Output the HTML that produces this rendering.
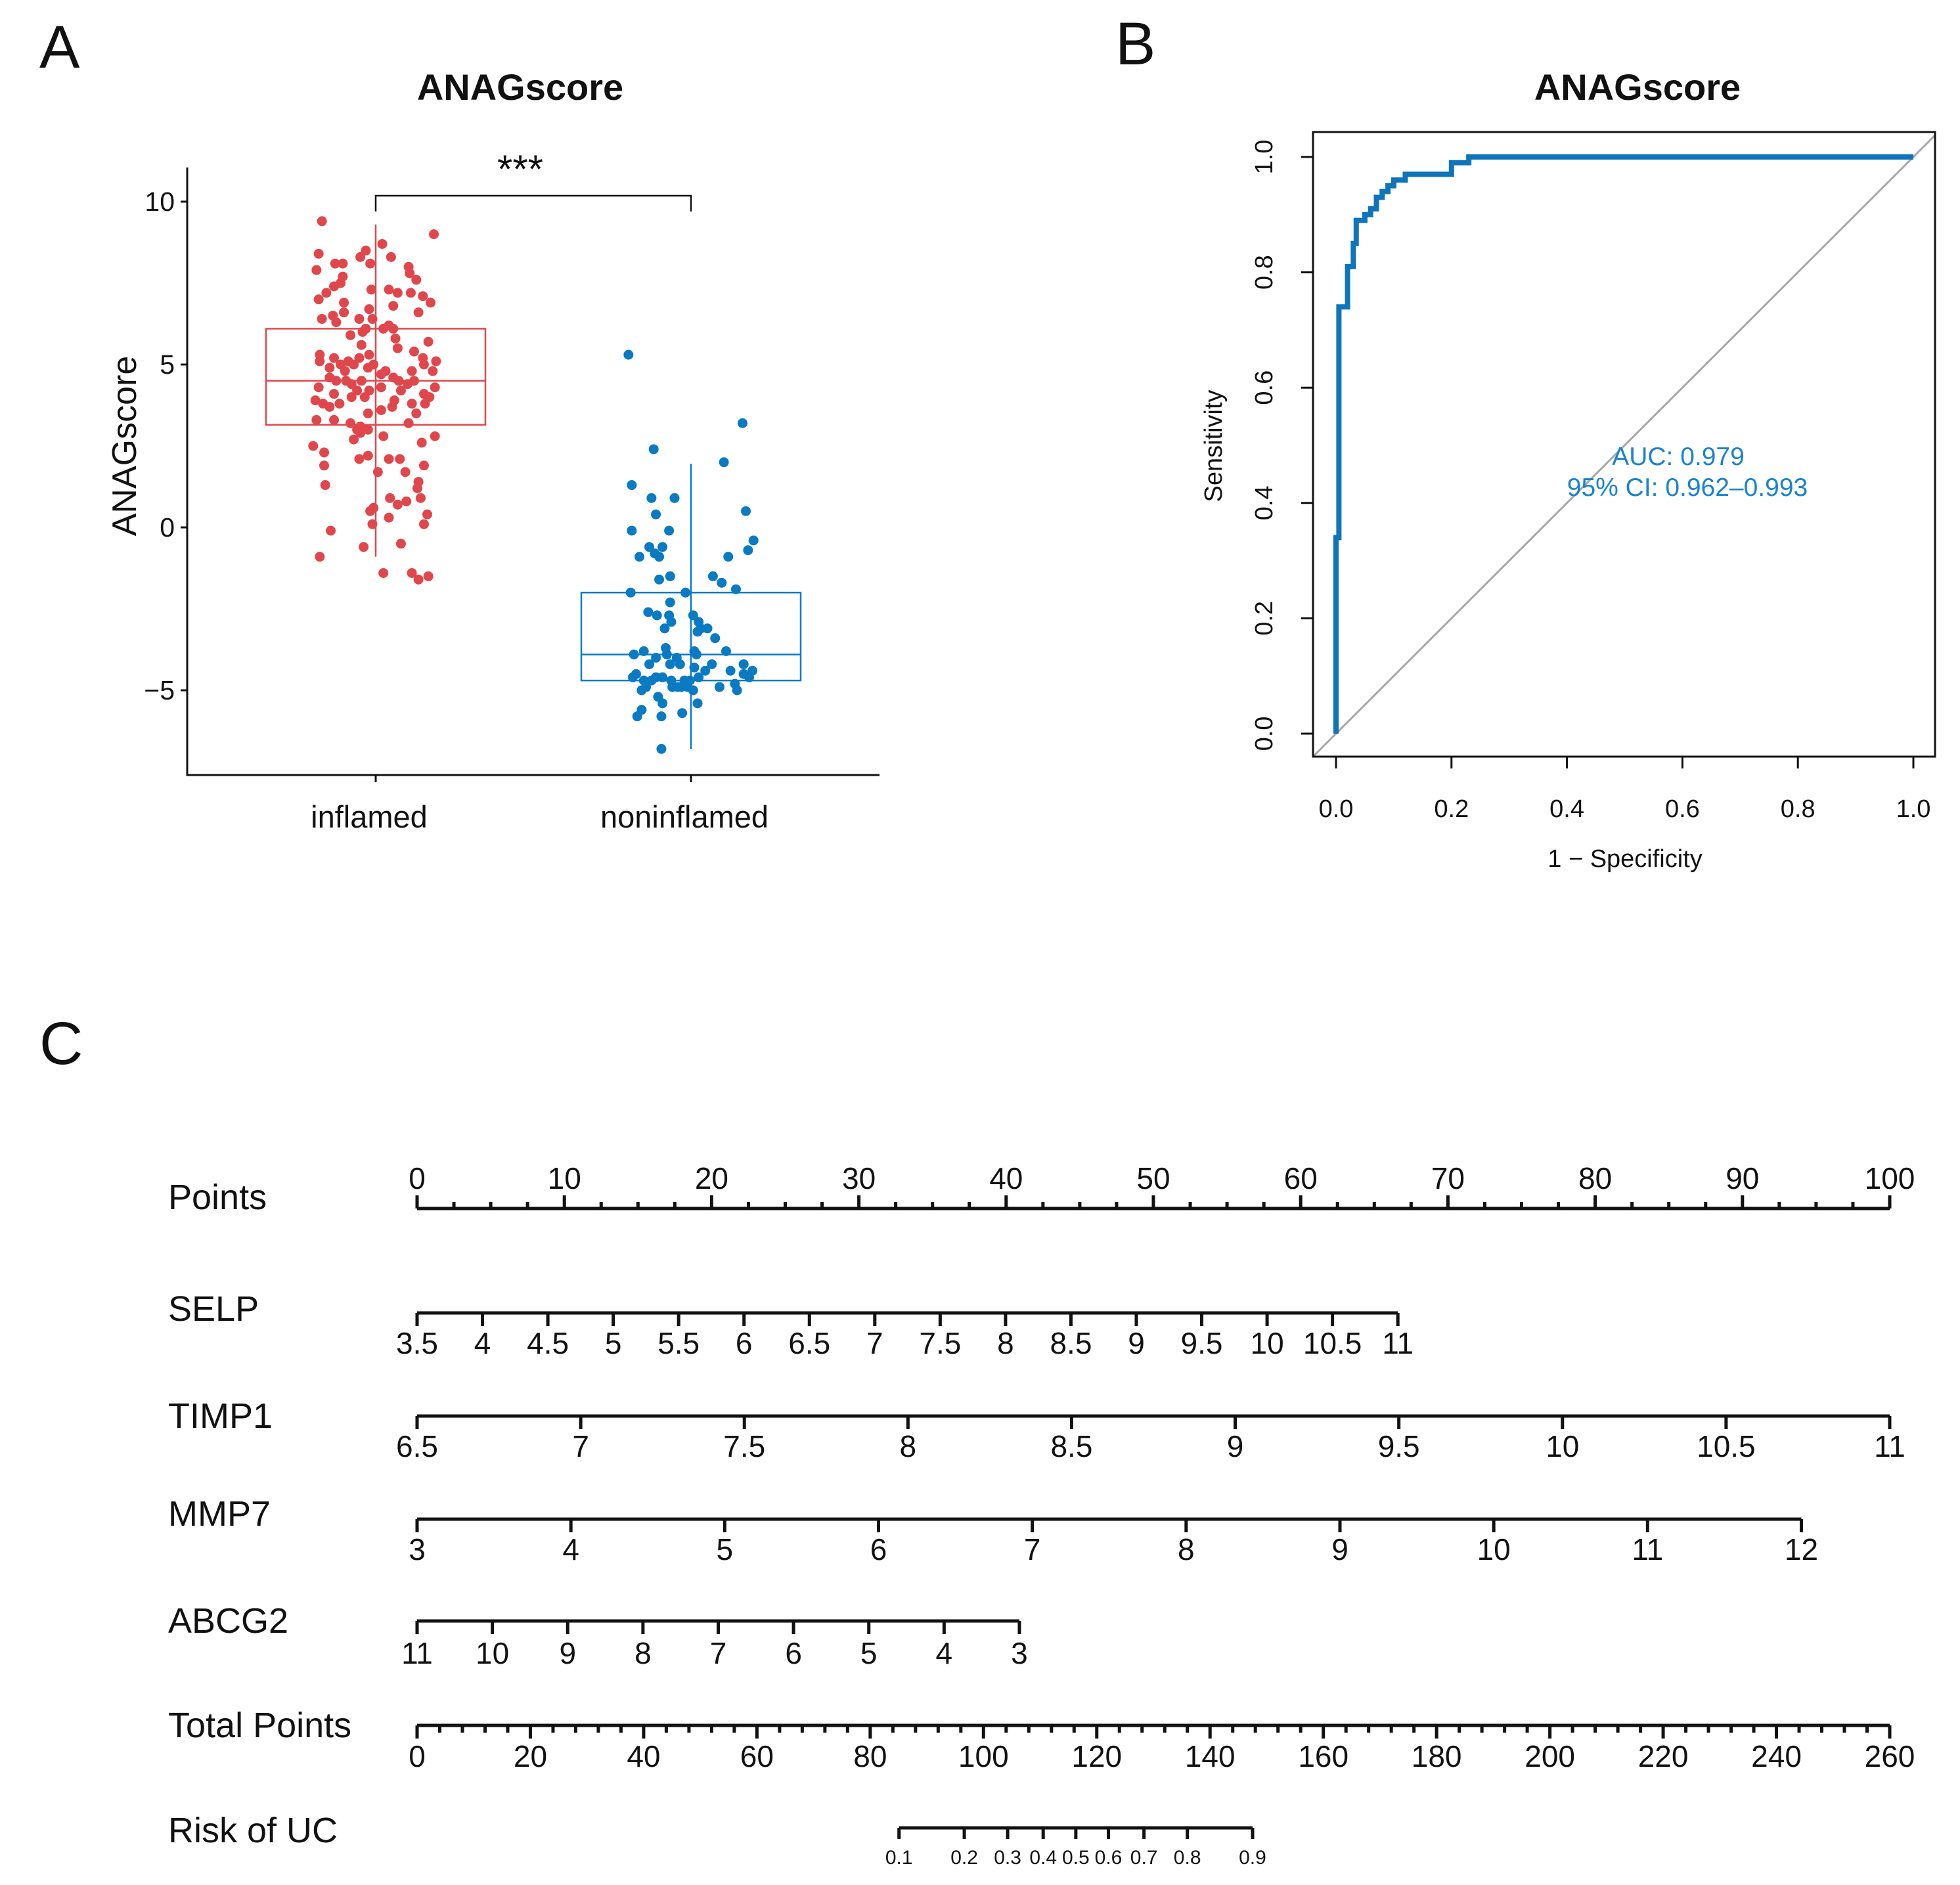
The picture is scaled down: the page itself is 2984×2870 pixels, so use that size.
<!DOCTYPE html>
<html><head><meta charset="utf-8"><style>
html,body{margin:0;padding:0;background:#fff}
svg{display:block}
text{font-family:"Liberation Sans",Arial,sans-serif;fill:#111}
</style></head><body>
<svg id="fig" width="2984" height="2870" viewBox="0 0 2984 2870" xmlns="http://www.w3.org/2000/svg">
<g id="pa"></g>
<g id="pb"></g>
<g id="pc"></g>
</svg>
<script>
// ---------- Panel A data ----------
const groups = ["inflamed","noninflamed"];
const yTicksA = [-5,0,5,10];
const inflamedScores = [9.4,9.0,8.7,8.5,8.4,8.3,8.3,8.1,8.1,8.1,8.0,7.9,7.8,7.6,7.7,7.5,7.4,7.2,7.3,7.3,7.2,7.2,7.1,6.9,7.0,6.9,6.8,6.7,6.5,6.4,6.6,6.6,6.4,6.4,6.3,6.1,6.2,6.1,6.1,6.0,5.9,5.8,5.7,5.6,5.5,5.4,5.3,5.2,5.3,5.2,5.1,5.1,5.2,5.1,5.0,5.0,5.0,5.0,4.9,4.9,4.8,4.8,4.8,4.8,4.7,4.6,4.5,4.5,4.6,4.5,4.5,4.4,4.5,4.4,4.3,4.2,4.3,4.3,4.2,4.1,4.2,4.1,3.9,4.0,4.0,4.0,3.9,3.8,3.8,3.8,3.7,3.8,3.7,3.6,3.5,3.3,3.3,3.5,3.2,3.1,3.2,3.0,3.0,2.9,2.8,2.7,2.6,2.8,2.5,2.3,2.1,2.2,2.1,2.1,1.9,1.7,1.9,1.7,1.3,1.4,1.2,0.9,0.9,0.8,0.7,0.6,0.5,0.4,0.3,0.1,0.1,-0.1,-0.6,-0.5,-0.9,-1.4,-1.4,-1.6,-1.5];
const inflamedJitter = [-0.49,0.53,0.06,-0.09,-0.52,0.14,-0.14,-0.05,-0.37,-0.30,0.30,-0.54,0.31,0.37,-0.30,-0.32,-0.38,-0.45,-0.04,0.12,0.20,0.32,0.43,0.50,-0.52,-0.29,0.16,-0.06,-0.39,-0.15,0.39,-0.29,-0.49,-0.03,-0.36,-0.09,0.12,0.16,0.07,-0.12,-0.23,0.18,0.48,-0.13,0.20,0.35,-0.51,-0.38,-0.06,-0.15,-0.25,-0.51,0.43,0.55,-0.32,-0.20,-0.02,0.44,-0.42,-0.07,0.09,0.33,-0.28,0.52,0.05,0.16,0.21,-0.13,-0.42,-0.36,-0.27,0.29,0.35,-0.22,-0.52,-0.06,0.05,0.54,0.23,-0.38,-0.17,0.44,-0.55,-0.10,-0.22,0.49,0.17,-0.48,-0.33,0.33,-0.42,0.45,0.15,0.05,0.37,-0.54,-0.38,-0.07,-0.23,-0.14,0.30,-0.17,-0.07,-0.14,0.07,-0.20,0.42,0.54,-0.57,-0.47,-0.15,-0.07,0.12,0.22,-0.47,0.27,0.44,0.02,-0.46,0.39,0.38,0.13,0.41,0.28,0.20,-0.02,-0.05,0.47,0.12,-0.03,0.44,-0.41,-0.11,0.23,-0.51,0.07,0.33,0.39,0.48];
const nonScores = [5.3,3.2,2.4,2.0,1.3,0.9,0.9,0.5,0.4,-0.1,-0.1,-0.4,-0.6,-0.6,-0.7,-0.8,-0.9,-0.9,-0.9,-1.5,-1.6,-1.5,-1.7,-1.9,-2.0,-2.0,-2.3,-2.6,-2.7,-2.7,-2.7,-2.9,-2.9,-3.1,-3.1,-3.1,-3.2,-3.4,-3.9,-3.8,-3.7,-3.9,-4.0,-3.8,-3.9,-3.8,-4.0,-4.2,-4.2,-4.2,-4.2,-4.2,-4.5,-4.7,-4.6,-4.6,-4.7,-4.7,-4.6,-4.4,-4.3,-4.4,-4.4,-4.9,-5.0,-4.9,-4.9,-5.0,-4.9,-4.8,-4.6,-4.5,-5.4,-5.2,-5.4,-5.6,-5.8,-5.8,-5.7,-6.8,-4.9,-4.7,-4.7,-4.9,-5.0,-4.6];
const nonJitter = [-0.57,0.47,-0.34,0.30,-0.54,-0.36,-0.15,0.50,-0.32,-0.54,-0.20,0.57,-0.26,-0.38,0.52,-0.33,-0.47,-0.29,0.34,0.20,-0.29,-0.19,0.28,0.41,-0.55,-0.05,-0.19,-0.39,-0.20,-0.31,0.02,0.07,-0.18,-0.24,0.09,0.15,0.06,0.22,-0.52,-0.43,-0.23,-0.22,-0.13,0.03,0.05,0.32,-0.32,-0.38,-0.19,-0.10,0.19,0.48,-0.50,-0.43,-0.32,-0.26,-0.18,-0.06,0.07,0.13,0.03,0.36,0.56,-0.41,-0.45,-0.12,-0.03,0.02,0.26,0.40,0.53,0.48,0.06,-0.30,-0.26,-0.45,-0.49,-0.27,-0.08,-0.27,-0.09,-0.01,-0.36,-0.17,0.42,-0.53];
const inflamedBox = [-0.9,3.15,4.5,6.1,9.3];
const nonBox = [-6.8,-4.7,-3.9,-2.0,1.95];

// ---------- Panel B data ----------
const rocFpr = [0,0,0.005,0.005,0.02,0.02,0.03,0.03,0.035,0.035,0.05,0.05,0.06,0.06,0.07,0.07,0.08,0.08,0.09,0.09,0.1,0.1,0.12,0.12,0.2,0.2,0.23,0.23,1.0];
const rocTpr = [0,0.34,0.34,0.74,0.74,0.81,0.81,0.85,0.85,0.89,0.89,0.90,0.90,0.91,0.91,0.93,0.93,0.94,0.94,0.95,0.95,0.96,0.96,0.97,0.97,0.99,0.99,1.0,1.0];
const rocTicks = [0,0.2,0.4,0.6,0.8,1.0];

// ---------- Panel C data ----------
const selpTicks = [3.5,4,4.5,5,5.5,6,6.5,7,7.5,8,8.5,9,9.5,10,10.5,11];
const timpTicks = [6.5,7,7.5,8,8.5,9,9.5,10,10.5,11];
const mmpTicks = [3,4,5,6,7,8,9,10,11,12];
const abcgTicks = [11,10,9,8,7,6,5,4,3];
const riskProbs = [0.1,0.2,0.3,0.4,0.5,0.6,0.7,0.8,0.9];
const selpRange = [3.5,11,0,66.6];
const timpRange = [6.5,11,0,100];
const mmpRange = [3,12,0,94.0];
const abcgRange = [11,3,0,40.9];
const riskModel = [116.3,0.0704]; // total points at p=0.5, slope of logit

const NS="http://www.w3.org/2000/svg";
function mk(parent,tag,attrs,txt){const e=document.createElementNS(NS,tag);for(const k in attrs)e.setAttribute(k,attrs[k]);if(txt!==undefined)e.textContent=txt;parent.appendChild(e);return e;}

// ===== Panel A =====
const pa=document.getElementById('pa');
const yA=v=>803-v*49.6;
const xA=[572,1052];
const colA=["#e0474c","#0a7bc2"];
let t;
t=mk(pa,'text',{x:60,y:103,'font-size':92});t.textContent='A';


t=mk(pa,'text',{x:792,y:152,'font-size':56,'font-weight':'bold','text-anchor':'middle'},'ANAGscore');


let ax=mk(pa,'path',{d:'M285,255 V1180 H1339',stroke:'#111','stroke-width':3,fill:'none'});


yTicksA.forEach(v=>{
  const tk=mk(pa,'line',{x1:275,x2:285,y1:yA(v),y2:yA(v),stroke:'#111','stroke-width':3});
  
  
  const lb=mk(pa,'text',{x:266,y:yA(v)+14,'font-size':41,'text-anchor':'end'},v<0?'\u2212'+(-v):String(v));
  
  
});
t=mk(pa,'text',{transform:'translate(207,679) rotate(-90)','font-size':52,'text-anchor':'middle'},'ANAGscore');


groups.forEach((g,i)=>{
  const tk=mk(pa,'line',{x1:xA[i],x2:xA[i],y1:1180,y2:1191,stroke:'#111','stroke-width':3});
  
  
  const lb=mk(pa,'text',{x:xA[i]-10,y:1260,'font-size':47,'text-anchor':'middle'},g);
  
  
});
[inflamedBox,nonBox].forEach((b,i)=>{
  const c=colA[i],cx=xA[i],hw=167;
  const w=mk(pa,'line',{x1:cx,x2:cx,y1:yA(b[0]),y2:yA(b[4]),stroke:c,'stroke-width':2.5});
  
  
  const r=mk(pa,'rect',{x:cx-hw,y:yA(b[3]),width:2*hw,height:yA(b[1])-yA(b[3]),fill:'none',stroke:c,'stroke-width':2.5});
  
  
  const m=mk(pa,'line',{x1:cx-hw,x2:cx+hw,y1:yA(b[2]),y2:yA(b[2]),stroke:c,'stroke-width':2.5});
  
  
});
[[inflamedScores,inflamedJitter],[nonScores,nonJitter]].forEach((d,i)=>{
  d[0].forEach((v,k)=>{
    const p=mk(pa,'circle',{cx:xA[i]+d[1][k]*167,cy:yA(v),r:7.5,fill:colA[i]});
    
    
  });
});
let br=mk(pa,'path',{d:`M${xA[0]},322 V298 H${xA[1]} V322`,stroke:'#111','stroke-width':2.5,fill:'none'});


t=mk(pa,'text',{x:792,y:278,'font-size':60,'text-anchor':'middle'},'***');



// ===== Panel B =====
const pb=document.getElementById('pb');
const xB=v=>2034+v*879, yB=v=>1117-v*878;
t=mk(pb,'text',{x:1698,y:98,'font-size':92},'B');


t=mk(pb,'text',{x:2493,y:152,'font-size':56,'font-weight':'bold','text-anchor':'middle'},'ANAGscore');


const bx0=1999,bx1=2946,by0=201,by1=1152;
let cp=mk(pb,'clipPath',{id:'clipB'});mk(cp,'rect',{x:bx0,y:by0,width:bx1-bx0,height:by1-by0});
let dg=mk(pb,'line',{x1:xB(-0.05),y1:yB(-0.05),x2:xB(1.05),y2:yB(1.05),stroke:'#a8a8a8','stroke-width':3,'clip-path':'url(#clipB)'});


let pts=rocFpr.map((f,i)=>xB(f)+','+yB(rocTpr[i])).join(' ');
let rc=mk(pb,'polyline',{points:pts,fill:'none',stroke:'#0f74b9','stroke-width':8,'stroke-linejoin':'miter'});


let bb=mk(pb,'rect',{x:bx0,y:by0,width:bx1-bx0,height:by1-by0,fill:'none',stroke:'#111','stroke-width':3});


rocTicks.forEach(v=>{
  let a=mk(pb,'line',{x1:xB(v),x2:xB(v),y1:by1,y2:by1+18,stroke:'#111','stroke-width':3});
  
  
  let l=mk(pb,'text',{x:xB(v),y:1244,'font-size':38,'text-anchor':'middle'},v.toFixed(1));
  
  
  let b=mk(pb,'line',{x1:bx0-18,x2:bx0,y1:yB(v),y2:yB(v),stroke:'#111','stroke-width':3});
  
  
  let m=mk(pb,'text',{transform:`translate(1937,${yB(v)}) rotate(-90)`,'font-size':38,'text-anchor':'middle'},v.toFixed(1));
  
  
});
t=mk(pb,'text',{transform:'translate(1860,679) rotate(-90)','font-size':38,'text-anchor':'middle'},'Sensitivity');


t=mk(pb,'text',{x:2474,y:1320,'font-size':38,'text-anchor':'middle'},'1 \u2212 Specificity');


t=mk(pb,'text',{x:2555,y:708,'font-size':39,'text-anchor':'middle',style:'fill:#1a83cc'},'AUC: 0.979');


t=mk(pb,'text',{x:2569,y:755,'font-size':39,'text-anchor':'middle',style:'fill:#1a83cc'},'95% CI: 0.962\u20130.993');



// ===== Panel C =====
const pc=document.getElementById('pc');
const X0=635,X1=2877;
const xP=p=>X0+(p/100)*(X1-X0);
t=mk(pc,'text',{x:60,y:1620,'font-size':92},'C');


function rowLabel(txt,y,name){const e=mk(pc,'text',{x:256,y:y+18,'font-size':54},txt);
  
  }
function scaleRow(name,ticks,range,y,labY,fs){
  const v2p=v=>range[2]+(v-range[0])/(range[1]-range[0])*(range[3]-range[2]);
  const a=ticks.map(v=>xP(v2p(v)));
  const ln=mk(pc,'line',{x1:Math.min(...a),x2:Math.max(...a),y1:y,y2:y,stroke:'#111','stroke-width':5});
  
  
  ticks.forEach((v,i)=>{
    const tk=mk(pc,'line',{x1:a[i],x2:a[i],y1:y,y2:y+20,stroke:'#111','stroke-width':5});
    
    
    const lb=mk(pc,'text',{x:a[i],y:labY,'font-size':fs||46,'text-anchor':'middle'},String(v));
    
    
  });
}
// Points axis
rowLabel('Points',1823,'points-row-label');
let pl=mk(pc,'line',{x1:xP(0),x2:xP(100),y1:1840,y2:1840,stroke:'#111','stroke-width':5});


for(let p=0;p<=100;p+=2.5){
  const major=p%10===0;
  const tk=mk(pc,'line',{x1:xP(p),x2:xP(p),y1:1840,y2:major?1820:1830,stroke:'#111','stroke-width':5});
  
  
  if(major){const lb=mk(pc,'text',{x:xP(p),y:1810,'font-size':46,'text-anchor':'middle'},String(p));
    
    }
}
rowLabel('SELP',1993,'selp-row-label');
scaleRow('selp',selpTicks,selpRange,1999,2061);
rowLabel('TIMP1',2156,'timp1-row-label');
scaleRow('timp1',timpTicks,timpRange,2156,2218);
rowLabel('MMP7',2305,'mmp7-row-label');
scaleRow('mmp7',mmpTicks,mmpRange,2313,2375);
rowLabel('ABCG2',2468,'abcg2-row-label');
scaleRow('abcg2',abcgTicks,abcgRange,2468,2533);
// Total points
rowLabel('Total Points',2627,'total-points-row-label');
const xT=v=>X0+(v/260)*(X1-X0);
let tl=mk(pc,'line',{x1:xT(0),x2:xT(260),y1:2627,y2:2627,stroke:'#111','stroke-width':5});


for(let v=0;v<=260;v+=4){
  const major=v%20===0;
  const tk=mk(pc,'line',{x1:xT(v),x2:xT(v),y1:2627,y2:major?2647:2638,stroke:'#111','stroke-width':5});
  
  
  if(major){const lb=mk(pc,'text',{x:xT(v),y:2690,'font-size':46,'text-anchor':'middle'},String(v));
    
    }
}
// Risk
rowLabel('Risk of UC',2787,'risk-row-label');
const rx=riskProbs.map(p=>xT(riskModel[0]+Math.log(p/(1-p))/riskModel[1]));
let rl=mk(pc,'line',{x1:rx[0],x2:rx[rx.length-1],y1:2783,y2:2783,stroke:'#111','stroke-width':5});


riskProbs.forEach((p,i)=>{
  const tk=mk(pc,'line',{x1:rx[i],x2:rx[i],y1:2783,y2:2800,stroke:'#111','stroke-width':5});
  
  
  const lb=mk(pc,'text',{x:rx[i],y:2838,'font-size':30,'text-anchor':'middle'},String(p));
  
  
});
</script>
</body></html>
